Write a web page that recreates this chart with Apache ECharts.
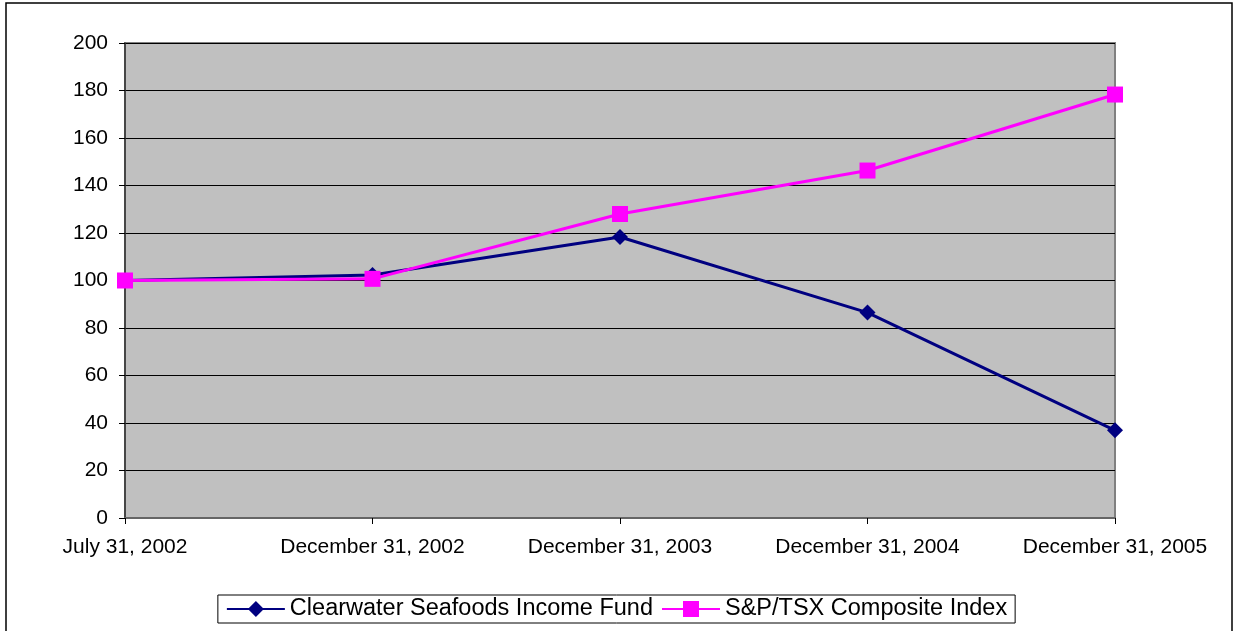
<!DOCTYPE html>
<html>
<head>
<meta charset="utf-8">
<script src="https://cdn.jsdelivr.net/npm/echarts@6/dist/echarts.min.js"></script>
<style>
html,body{margin:0;padding:0;background:#fff;}
#c{width:1233px;height:631px;}
</style>
</head>
<body>
<div id="c"></div>
<script>
const categories = ["July 31, 2002", "December 31, 2002", "December 31, 2003", "December 31, 2004", "December 31, 2005"];
const clearwater = [100, 102.3, 118.3, 86.5, 36.9];
const tsx = [100, 100.7, 128, 146.3, 178.3];
const yTicks = { min: 0, max: 200, interval: 20 };

const chart = echarts.init(document.getElementById('c'));
const font = 'Liberation Sans, Arial, sans-serif';
chart.setOption({
  animation: false,
  graphic: [{
    type: 'rect', z: 100,
    shape: { x: 6, y: 3, width: 1226, height: 660 },
    style: { fill: 'none', stroke: '#000', lineWidth: 1.5 }
  }],
  grid: {
    left: 125, right: 118, top: 43, bottom: 113,
    show: true, backgroundColor: '#C0C0C0', borderColor: '#808080', borderWidth: 2
  },
  legend: {
    bottom: 8, left: 'center',
    data: ['Clearwater Seafoods Income Fund', 'S&P/TSX Composite Index'],
    borderColor: '#000', borderWidth: 1, padding: [2, 8, 2, 8],
    itemGap: 8, itemWidth: 58, itemHeight: 20,
    textStyle: { fontFamily: font, fontSize: 23.5, color: '#000', padding: [2, 0, 0, 0] }
  },
  xAxis: {
    type: 'category', data: categories, boundaryGap: false,
    axisLine: { lineStyle: { color: '#666', width: 2 } },
    axisTick: { show: true, length: 6, lineStyle: { color: '#000' } },
    axisLabel: { fontFamily: font, fontSize: 21, color: '#000', margin: 19, interval: 0 },
    splitLine: { show: false }
  },
  yAxis: {
    type: 'value', min: yTicks.min, max: yTicks.max, interval: yTicks.interval,
    axisLine: { show: true, lineStyle: { color: '#333', width: 1.5 } },
    axisTick: { show: true, length: 6, lineStyle: { color: '#000' } },
    axisLabel: { fontFamily: font, fontSize: 21, color: '#000', margin: 17 },
    splitLine: { show: true, lineStyle: { color: '#000', width: 1 } }
  },
  series: [
    {
      name: 'Clearwater Seafoods Income Fund', type: 'line', data: clearwater,
      symbol: 'diamond', symbolSize: 16, showAllSymbol: true,
      lineStyle: { color: '#000080', width: 3 },
      itemStyle: { color: '#000080' }, z: 3
    },
    {
      name: 'S&P/TSX Composite Index', type: 'line', data: tsx,
      symbol: 'rect', symbolSize: 16, showAllSymbol: true,
      lineStyle: { color: '#FF00FF', width: 3 },
      itemStyle: { color: '#FF00FF' }, z: 4
    }
  ]
});
</script>
</body>
</html>
